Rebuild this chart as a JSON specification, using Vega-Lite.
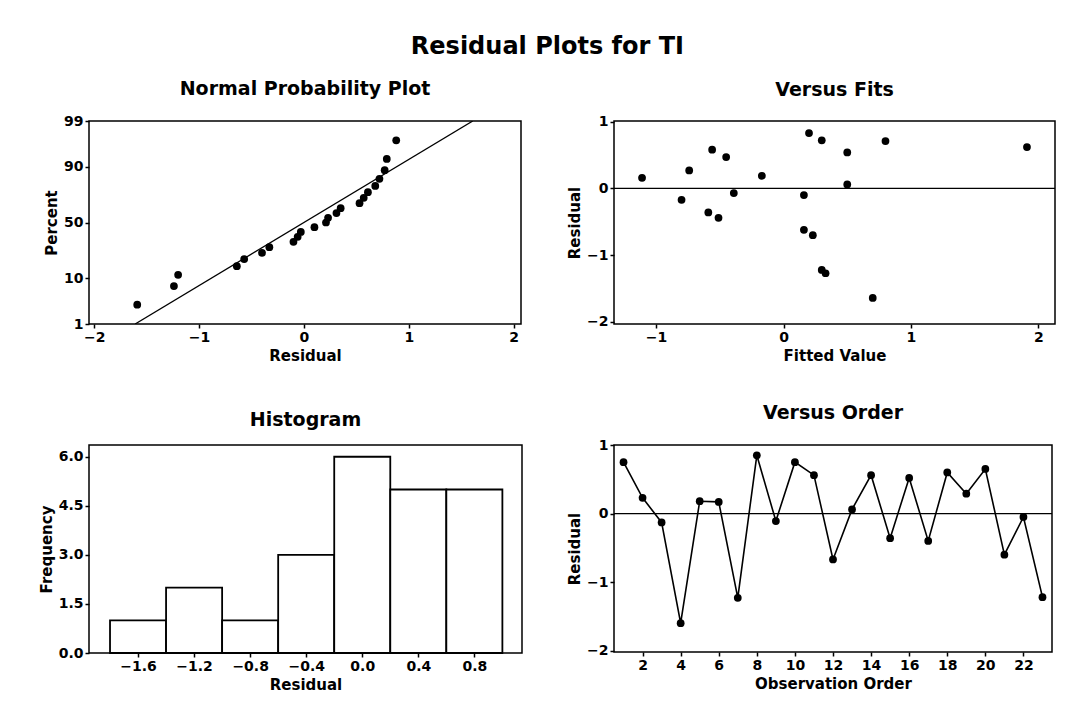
{
  "$schema": "https://vega.github.io/schema/vega-lite/v6.json",
  "background": "white",
  "padding": {"left": 38, "top": 35, "right": 2, "bottom": 2},
  "title": {"text": "Residual Plots for TI", "font": "DejaVu Sans", "fontSize": 24, "fontWeight": "bold", "color": "black", "anchor": "middle", "offset": 20},
  "config": {
    "view": {"stroke": "black", "strokeWidth": 1.5},
    "axis": {"grid": false, "domain": false, "tickColor": "black", "tickSize": 4, "tickWidth": 1.5, "labelFont": "DejaVu Sans", "labelFontSize": 14, "labelFontWeight": "bold", "labelColor": "black", "titleFont": "DejaVu Sans", "titleFontSize": 15, "titleFontWeight": "bold", "titleColor": "black", "labelPadding": 2, "titlePadding": 4},
    "title": {"font": "DejaVu Sans", "fontSize": 19, "fontWeight": "bold", "color": "black", "offset": 15},
    "concat": {"spacing": {"row": 39, "column": 43}}
  },
  "datasets": {
    "normal": [
      {"residual": -1.59, "score": -1.882},
      {"residual": -1.24, "score": -1.457},
      {"residual": -1.20, "score": -1.198},
      {"residual": -0.64, "score": -1.002},
      {"residual": -0.57, "score": -0.839},
      {"residual": -0.40, "score": -0.695},
      {"residual": -0.33, "score": -0.565},
      {"residual": -0.10, "score": -0.443},
      {"residual": -0.06, "score": -0.327},
      {"residual": -0.03, "score": -0.216},
      {"residual": 0.10, "score": -0.107},
      {"residual": 0.21, "score": 0.0},
      {"residual": 0.23, "score": 0.107},
      {"residual": 0.31, "score": 0.216},
      {"residual": 0.35, "score": 0.327},
      {"residual": 0.53, "score": 0.443},
      {"residual": 0.57, "score": 0.565},
      {"residual": 0.61, "score": 0.695},
      {"residual": 0.68, "score": 0.839},
      {"residual": 0.72, "score": 1.002},
      {"residual": 0.77, "score": 1.198},
      {"residual": 0.79, "score": 1.457},
      {"residual": 0.88, "score": 1.882}
    ],
    "fitline": [
      {"residual": -1.61, "score": -2.326},
      {"residual": 1.61, "score": 2.326}
    ],
    "fits": [
      {"fitted": -1.11, "residual": 0.16},
      {"fitted": -0.74, "residual": 0.27},
      {"fitted": -0.56, "residual": 0.58},
      {"fitted": -0.45, "residual": 0.47},
      {"fitted": -0.17, "residual": 0.19},
      {"fitted": 0.50, "residual": 0.06},
      {"fitted": 0.20, "residual": 0.83},
      {"fitted": 0.30, "residual": 0.72},
      {"fitted": 0.50, "residual": 0.54},
      {"fitted": 0.80, "residual": 0.71},
      {"fitted": 1.91, "residual": 0.62},
      {"fitted": -0.80, "residual": -0.17},
      {"fitted": -0.39, "residual": -0.07},
      {"fitted": 0.16, "residual": -0.10},
      {"fitted": -0.59, "residual": -0.36},
      {"fitted": -0.51, "residual": -0.44},
      {"fitted": 0.16, "residual": -0.62},
      {"fitted": 0.23, "residual": -0.70},
      {"fitted": 0.30, "residual": -1.22},
      {"fitted": 0.33, "residual": -1.27},
      {"fitted": 0.70, "residual": -1.64}
    ],
    "hist": [
      {"bin_start": -1.8, "bin_end": -1.4, "count": 1},
      {"bin_start": -1.4, "bin_end": -1.0, "count": 2},
      {"bin_start": -1.0, "bin_end": -0.6, "count": 1},
      {"bin_start": -0.6, "bin_end": -0.2, "count": 3},
      {"bin_start": -0.2, "bin_end": 0.2, "count": 6},
      {"bin_start": 0.2, "bin_end": 0.6, "count": 5},
      {"bin_start": 0.6, "bin_end": 1.0, "count": 5}
    ],
    "order": [
      {"obs": 1, "residual": 0.75},
      {"obs": 2, "residual": 0.23},
      {"obs": 3, "residual": -0.13},
      {"obs": 4, "residual": -1.60},
      {"obs": 5, "residual": 0.18},
      {"obs": 6, "residual": 0.17},
      {"obs": 7, "residual": -1.23},
      {"obs": 8, "residual": 0.85},
      {"obs": 9, "residual": -0.11},
      {"obs": 10, "residual": 0.75},
      {"obs": 11, "residual": 0.56},
      {"obs": 12, "residual": -0.67},
      {"obs": 13, "residual": 0.06},
      {"obs": 14, "residual": 0.56},
      {"obs": 15, "residual": -0.36},
      {"obs": 16, "residual": 0.52},
      {"obs": 17, "residual": -0.40},
      {"obs": 18, "residual": 0.60},
      {"obs": 19, "residual": 0.29},
      {"obs": 20, "residual": 0.65},
      {"obs": 21, "residual": -0.60},
      {"obs": 22, "residual": -0.05},
      {"obs": 23, "residual": -1.22}
    ],
    "zero": [{"y": 0}]
  },
  "columns": 2,
  "concat": [
    {
      "title": "Normal Probability Plot",
      "width": 432,
      "height": 203,
      "layer": [
        {
          "data": {"name": "fitline"},
          "mark": {"type": "line", "color": "black", "strokeWidth": 1.3, "clip": true},
          "encoding": {
            "x": {"field": "residual", "type": "quantitative"},
            "y": {"field": "score", "type": "quantitative"}
          }
        },
        {
          "data": {"name": "normal"},
          "mark": {"type": "circle", "color": "black", "opacity": 1, "size": 60},
          "encoding": {
            "x": {"field": "residual", "type": "quantitative", "title": "Residual", "scale": {"domain": [-2.05, 2.07], "nice": false, "zero": false}, "axis": {"values": [-2, -1, 0, 1, 2], "format": "d"}},
            "y": {"field": "score", "type": "quantitative", "title": "Percent", "scale": {"domain": [-2.326, 2.326], "nice": false, "zero": false}, "axis": {"values": [-2.326, -1.2816, 0, 1.2816, 2.326], "labelExpr": "datum.value < -2 ? '1' : datum.value < -1 ? '10' : datum.value < 1 && datum.value > -1 ? '50' : datum.value < 2 ? '90' : '99'"}}
          }
        }
      ]
    },
    {
      "title": "Versus Fits",
      "width": 441,
      "height": 203,
      "layer": [
        {
          "data": {"name": "zero"},
          "mark": {"type": "rule", "color": "black", "strokeWidth": 1.3},
          "encoding": {"y": {"field": "y", "type": "quantitative"}}
        },
        {
          "data": {"name": "fits"},
          "mark": {"type": "circle", "color": "black", "opacity": 1, "size": 60},
          "encoding": {
            "x": {"field": "fitted", "type": "quantitative", "title": "Fitted Value", "scale": {"domain": [-1.33, 2.13], "nice": false, "zero": false}, "axis": {"values": [-1, 0, 1, 2], "format": "d"}},
            "y": {"field": "residual", "type": "quantitative", "title": "Residual", "scale": {"domain": [-2.03, 1.01], "nice": false, "zero": false}, "axis": {"values": [-2, -1, 0, 1], "format": "d"}}
          }
        }
      ]
    },
    {
      "title": "Histogram",
      "width": 433,
      "height": 208,
      "data": {"name": "hist"},
      "mark": {"type": "rect", "fill": "white", "stroke": "black", "strokeWidth": 1.8},
      "encoding": {
        "x": {"field": "bin_start", "type": "quantitative", "title": "Residual", "scale": {"domain": [-1.95, 1.14], "nice": false, "zero": false}, "axis": {"values": [-1.6, -1.2, -0.8, -0.4, 0, 0.4, 0.8], "format": ".1f"}},
        "x2": {"field": "bin_end"},
        "y": {"field": "count", "type": "quantitative", "title": "Frequency", "scale": {"domain": [0, 6.36], "nice": false}, "axis": {"values": [0, 1.5, 3, 4.5, 6], "format": ".1f"}},
        "y2": {"datum": 0}
      }
    },
    {
      "title": "Versus Order",
      "width": 438,
      "height": 207,
      "layer": [
        {
          "data": {"name": "zero"},
          "mark": {"type": "rule", "color": "black", "strokeWidth": 1.3},
          "encoding": {"y": {"field": "y", "type": "quantitative"}}
        },
        {
          "data": {"name": "order"},
          "mark": {"type": "line", "color": "black", "strokeWidth": 1.6, "point": {"filled": true, "color": "black", "size": 60, "opacity": 1}},
          "encoding": {
            "x": {"field": "obs", "type": "quantitative", "title": "Observation Order", "scale": {"domain": [0.5, 23.5], "nice": false, "zero": false}, "axis": {"values": [2, 4, 6, 8, 10, 12, 14, 16, 18, 20, 22]}},
            "y": {"field": "residual", "type": "quantitative", "title": "Residual", "scale": {"domain": [-2.02, 1.0], "nice": false, "zero": false}, "axis": {"values": [-2, -1, 0, 1], "format": "d"}}
          }
        }
      ]
    }
  ]
}
